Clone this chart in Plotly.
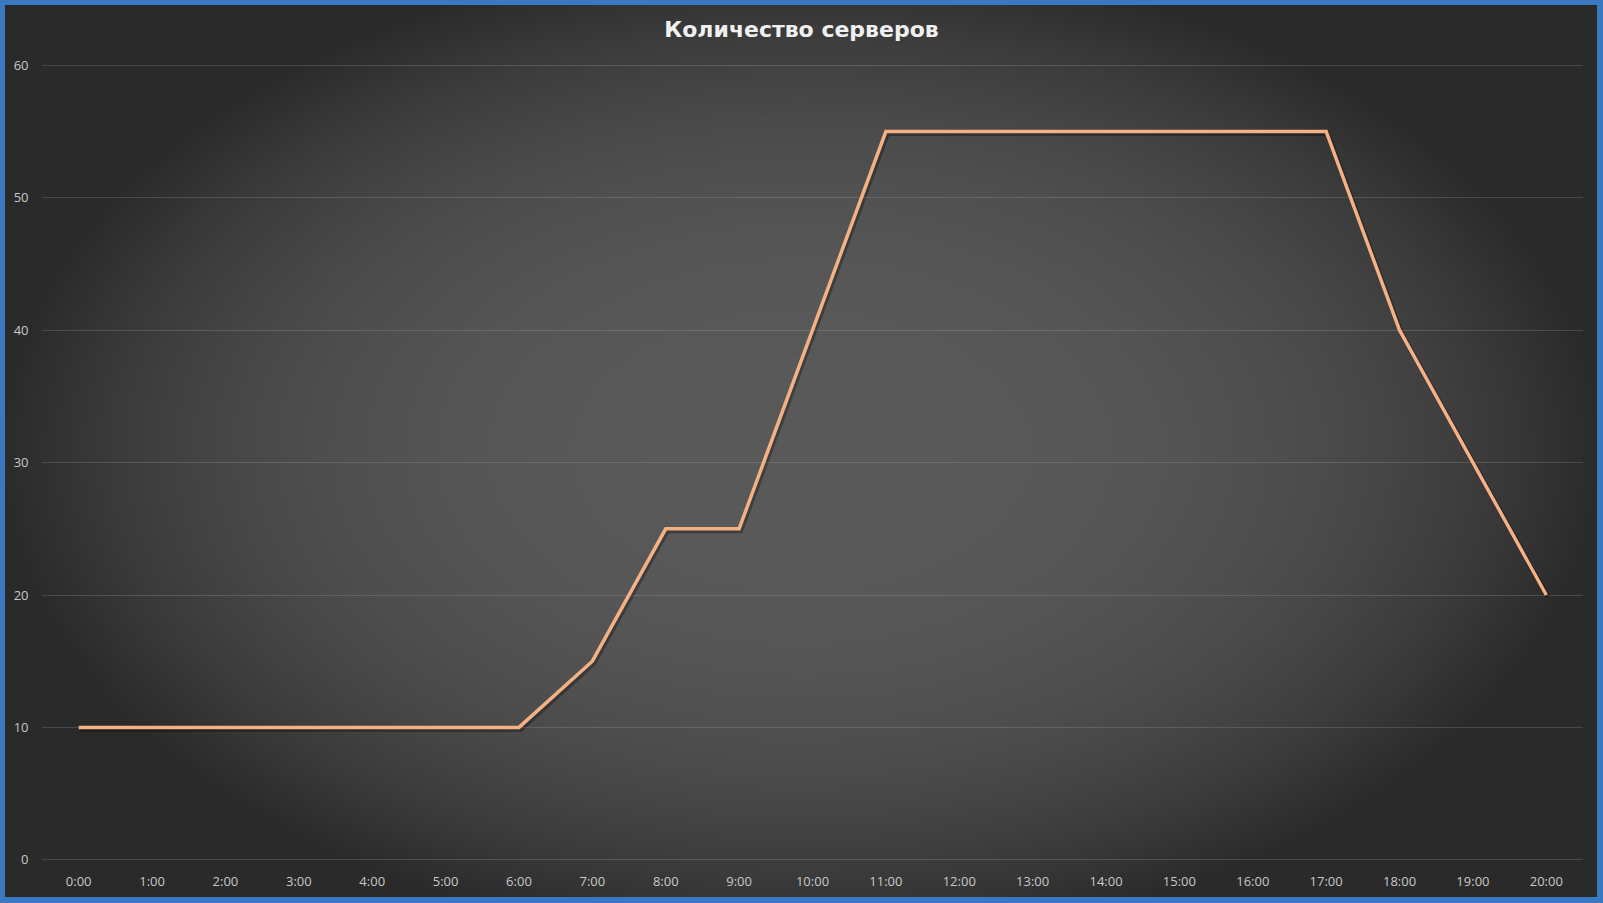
import base64
import struct
import zlib

import numpy as np
import plotly.graph_objects as go

# ---- data ----
categories = [f"{h}:00" for h in range(21)]
servers = [10, 10, 10, 10, 10, 10, 10, 15, 25, 25, 40, 55, 55, 55, 55, 55, 55, 55, 40, 30, 20]
y_ticks = [0, 10, 20, 30, 40, 50, 60]
title_text = "Количество серверов"

W, H = 1603, 903


# ---- decorative radial background (as inline PNG) ----
def png_gray(arr):
    h, w = arr.shape
    raw = b"".join(b"\x00" + arr[i].astype(np.uint8).tobytes() for i in range(h))

    def chunk(t, data):
        c = struct.pack(">I", len(data)) + t + data
        return c + struct.pack(">I", zlib.crc32(t + data) & 0xFFFFFFFF)

    png = (b"\x89PNG\r\n\x1a\n"
           + chunk(b"IHDR", struct.pack(">IIBBBBB", w, h, 8, 0, 0, 0, 0))
           + chunk(b"IDAT", zlib.compress(raw, 9))
           + chunk(b"IEND", b""))
    return "data:image/png;base64," + base64.b64encode(png).decode()


nx, ny = 400, 226
gx = np.linspace(-1, 1, nx)
gy = np.linspace(-1, 1, ny)
X, Y = np.meshgrid(gx, gy)
d = np.sqrt(X ** 2 + (Y * 0.9) ** 2)
zbg = np.clip(89 - 46 * d ** 2.8, 42, 89)
bg_src = png_gray(np.round(zbg))

# plot area in px
left, right = 42, 1583
top, bottom = 65.4, 859.8
pad = 2.0  # px of extra range so edge gridlines render
xd = [left / W, right / W]
yd = [(H - bottom - pad) / H, (H - top + pad) / H]
upp = 60 / (bottom - top)  # units per px
yr = [0 - pad * upp, 60 + pad * upp]

fig = go.Figure()

# shadow
fig.add_trace(go.Scatter(
    x=categories, y=servers, mode="lines",
    line=dict(color="rgba(0,0,0,0.3)", width=5),
    hoverinfo="skip", showlegend=False, xaxis="x", yaxis="y"))

# main line
fig.add_trace(go.Scatter(
    x=categories, y=servers, mode="lines",
    line=dict(color="#f4b183", width=3.5),
    showlegend=False, xaxis="x2", yaxis="y2"))

hidden = dict(visible=False, showgrid=False, zeroline=False, fixedrange=True, automargin=False)
tickfont = dict(family="Open Sans", size=13, color="#c8c8c8")

fig.update_layout(
    width=W, height=H,
    margin=dict(l=0, r=0, t=0, b=0, autoexpand=False),
    paper_bgcolor="#3b78c2",
    plot_bgcolor="rgba(0,0,0,0)",
    showlegend=False,
    images=[dict(source=bg_src, xref="paper", yref="paper",
                 x=5 / W, y=1 - 5 / H, sizex=(W - 11) / W, sizey=(H - 11) / H,
                 xanchor="left", yanchor="top", sizing="stretch", layer="below")],
    title=dict(text=title_text, x=0.5, xanchor="center", y=1 - 29.6 / H, yanchor="middle",
               font=dict(family="DejaVu Sans", size=22, color="#f0f0f0", weight="bold")),
    xaxis=dict(domain=[xd[0] + 1.5 / W, xd[1] + 1.5 / W], type="category",
               range=[-0.5, 20.5], **hidden),
    yaxis=dict(domain=[yd[0] - 2 / H, yd[1] - 2 / H], range=yr, **hidden),
    xaxis2=dict(domain=xd, type="category", range=[-0.5, 20.5],
                showgrid=False, zeroline=False, showline=False, ticks="",
                automargin=False, fixedrange=True, tickfont=tickfont,
                ticklabeloverflow="allow", ticklabelstandoff=8),
    yaxis2=dict(domain=yd, range=yr, tickvals=y_ticks,
                showgrid=True, gridcolor="rgba(220,220,220,0.17)", gridwidth=1,
                zeroline=False, showline=False, ticks="",
                automargin=False, fixedrange=True, tickfont=tickfont,
                ticklabeloverflow="allow", ticklabelstandoff=14),
)

fig.write_html("out.html", config={"displayModeBar": False},
               post_script="document.body.style.margin='0';")
